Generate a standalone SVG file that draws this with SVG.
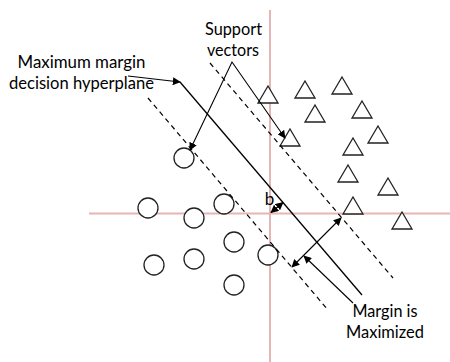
<svg xmlns="http://www.w3.org/2000/svg" width="450" height="362" viewBox="0 0 450 362">
  <style>
    .axis { stroke: #e6b5b5; stroke-width: 2; fill: none; }
    .plane { stroke: #000; stroke-width: 1.3; fill: none; }
    .dash { stroke: #000; stroke-width: 1.2; fill: none; stroke-dasharray: 5 4; }
    .lead { stroke: #000; stroke-width: 1.1; fill: none; }
    .pt { stroke: #222; stroke-width: 1.3; fill: #fff; }
    .label { font-family: Lato, "Open Sans", sans-serif; font-size: 17px; fill: #000; text-anchor: middle; }
  </style>
  <defs>
    <marker id="arrow" viewBox="0 0 10 10" refX="9" refY="5" markerWidth="8" markerHeight="8" markerUnits="userSpaceOnUse" orient="auto-start-reverse">
      <path d="M0,0 L10,5 L0,10 z" fill="#000"/>
    </marker>
    <circle id="circ" r="10" class="pt"/>
    <path id="tri" d="M0,-9 L10,8 L-10,8 z" class="pt"/>
  </defs>

  <!-- coordinate axes -->
  <g id="axes">
    <line class="axis" x1="89" y1="213.5" x2="450" y2="213.5"/>
    <line class="axis" x1="270" y1="10" x2="270" y2="362"/>
  </g>

  <!-- class A samples -->
  <g id="circles">
    <use href="#circ" x="184" y="158"/>
    <use href="#circ" x="148" y="208"/>
    <use href="#circ" x="194" y="218"/>
    <use href="#circ" x="224" y="204"/>
    <use href="#circ" x="234" y="242"/>
    <use href="#circ" x="194" y="259"/>
    <use href="#circ" x="154" y="265"/>
    <use href="#circ" x="234" y="285"/>
    <use href="#circ" x="268" y="255"/>
  </g>

  <!-- class B samples -->
  <g id="triangles">
    <use href="#tri" x="268" y="95"/>
    <use href="#tri" x="305" y="90"/>
    <use href="#tri" x="342" y="86"/>
    <use href="#tri" x="315" y="114"/>
    <use href="#tri" x="362" y="110"/>
    <use href="#tri" x="290" y="138"/>
    <use href="#tri" x="378" y="135"/>
    <use href="#tri" x="353" y="147"/>
    <use href="#tri" x="348" y="174"/>
    <use href="#tri" x="388" y="187"/>
    <use href="#tri" x="353" y="206"/>
    <use href="#tri" x="402" y="221"/>
  </g>

  <!-- hyperplane, margin boundaries and pointers -->
  <g id="connectors">
    <line id="hyperplane" class="plane" x1="180" y1="82" x2="362" y2="295"/>
    <line id="margin-upper" class="dash" x1="210" y1="63" x2="393" y2="278"/>
    <line id="margin-lower" class="dash" x1="148" y1="98" x2="328" y2="310"/>

    <line class="lead" x1="128" y1="76" x2="180" y2="82" marker-end="url(#arrow)"/>
    <polyline class="lead" points="190,150 232,62 285,138" marker-start="url(#arrow)" marker-end="url(#arrow)"/>
    <line class="plane" x1="271" y1="212.5" x2="283" y2="202.5" stroke-width="2" marker-start="url(#arrow)" marker-end="url(#arrow)"/>
    <line class="lead" x1="292" y1="267" x2="341" y2="218" marker-start="url(#arrow)" marker-end="url(#arrow)"/>
    <line class="lead" x1="353" y1="303" x2="304" y2="256" marker-end="url(#arrow)"/>
  </g>

  <!-- labels -->
  <g id="label-hyperplane">
    <text class="label" x="81.5" y="68" textLength="128" lengthAdjust="spacingAndGlyphs">Maximum margin</text>
    <text class="label" x="81.5" y="89" textLength="145" lengthAdjust="spacingAndGlyphs">decision hyperplane</text>
  </g>
  <g id="label-support">
    <text class="label" x="233.5" y="35" textLength="57" lengthAdjust="spacingAndGlyphs">Support</text>
    <text class="label" x="233" y="56" textLength="52" lengthAdjust="spacingAndGlyphs">vectors</text>
  </g>
  <g id="label-margin">
    <text class="label" x="385" y="317" textLength="65" lengthAdjust="spacingAndGlyphs">Margin is</text>
    <text class="label" x="385" y="338" textLength="78" lengthAdjust="spacingAndGlyphs">Maximized</text>
  </g>
  <g id="label-b">
    <text class="label" x="269.5" y="205" font-size="16">b</text>
  </g>
</svg>
